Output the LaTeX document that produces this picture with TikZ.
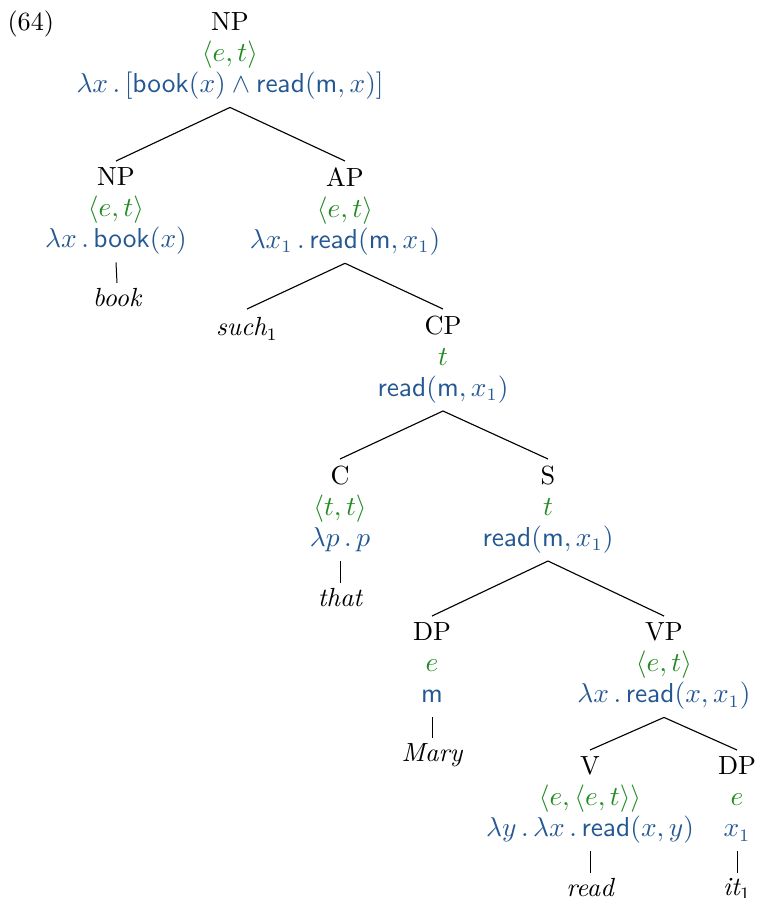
\documentclass[tikz,border=0pt]{standalone}
\usepackage{amsmath,amssymb}
\usepackage{xcolor}
\usepackage{tikz}
\usetikzlibrary{
    positioning
}
\definecolor{typegreen}{RGB}{34,139,34}
\definecolor{denblue}{RGB}{36,88,146}
\newcommand{\semtype}[1]{\textcolor{typegreen}{$#1$}}
\newcommand{\semden}[1]{\textcolor{denblue}{$#1\rule[-3pt]{0pt}{0pt}$}}
\tikzset{
    treenode/.style={
        anchor=north,
        align=center,
        inner xsep=3.3pt,
        inner ysep=2.6pt
    }
}
\tikzset{
    leaf/.style={
        anchor=north,
        inner xsep=3.3pt,
        inner ysep=2pt,
        font=\fontsize{10.5pt}{12.4pt}\selectfont\itshape
    }
}
\tikzset{
    branch/.style={
        draw=black,
        line width=0.45pt
    }
}
\tikzset{
    leafline/.style={
        draw=black,
        line width=0.4pt
    }
}

\begin{document}
\begin{tikzpicture}[
    x=0.4pt,
    y=-0.4pt,
    font=\fontsize{10.5pt}{12.4pt}\selectfont
]

\useasboundingbox (0,0) rectangle (756,898);

\node[anchor=base west, inner sep=0pt] (exnum) at (7,31) {(64)};

\node[treenode] (np0) at (230,6)
    {NP\\\semtype{\langle e,t\rangle}\\
     \semden{\lambda x\,.\,[\mathsf{book}(x)\wedge\mathsf{read}(\mathsf{m},x)]}};

\node[treenode] (np1) at (116,161)
    {NP\\\semtype{\langle e,t\rangle}\\\semden{\lambda x\,.\,\mathsf{book}(x)}};
\node[treenode] (ap) at (345,161)
    {AP\\\semtype{\langle e,t\rangle}\\\semden{\lambda x_1\,.\,\mathsf{read}(\mathsf{m},x_1)}};

\node[leaf] (book) at (117,283) {book};
\node[leaf, inner ysep=3.3pt] (such) at (247,309) {such$_1$};

\node[treenode] (cp) at (443,309)
    {CP\\\semtype{t}\\\semden{\mathsf{read}(\mathsf{m},x_1)}};

\node[treenode] (c) at (340,459)
    {C\\\semtype{\langle t,t\rangle}\\\semden{\lambda p\,.\,p}};
\node[treenode] (s) at (548,459)
    {S\\\semtype{t}\\\semden{\mathsf{read}(\mathsf{m},x_1)}};

\node[leaf] (that) at (340,583) {that};

\node[treenode] (dp1) at (432,616)
    {DP\\\semtype{e}\\\semden{\mathsf{m}}};
\node[treenode] (vp) at (664,616)
    {VP\\\semtype{\langle e,t\rangle}\\\semden{\lambda x\,.\,\mathsf{read}(x,x_1)}};

\node[leaf] (mary) at (432,738) {Mary};

\node[treenode] (v) at (590,750)
    {V\\\semtype{\langle e,\langle e,t\rangle\rangle}\\
     \semden{\lambda y\,.\,\lambda x\,.\,\mathsf{read}(x,y)}};
\node[treenode] (dp2) at (737,750)
    {DP\\\semtype{e}\\\semden{x_1}};

\node[leaf] (read) at (590,873) {read};
\node[leaf] (it) at (737,873) {it$_1$};

% branches
\draw[branch] (np0.south) -- (np1.north);
\draw[branch] (np0.south) -- (ap.north);
\draw[branch] (ap.south) -- (such.north);
\draw[branch] (ap.south) -- (cp.north);
\draw[branch] (cp.south) -- (c.north);
\draw[branch] (cp.south) -- (s.north);
\draw[branch] (s.south) -- (dp1.north);
\draw[branch] (s.south) -- (vp.north);
\draw[branch] (vp.south) -- (v.north);
\draw[branch] (vp.south) -- (dp2.north);

% lexical items
\draw[leafline] (np1.south) -- (book.north);
\draw[leafline] (c.south) -- (that.north);
\draw[leafline] (dp1.south) -- (mary.north);
\draw[leafline] (v.south) -- (read.north);
\draw[leafline] (dp2.south) -- (it.north);

\end{tikzpicture}
\end{document}
